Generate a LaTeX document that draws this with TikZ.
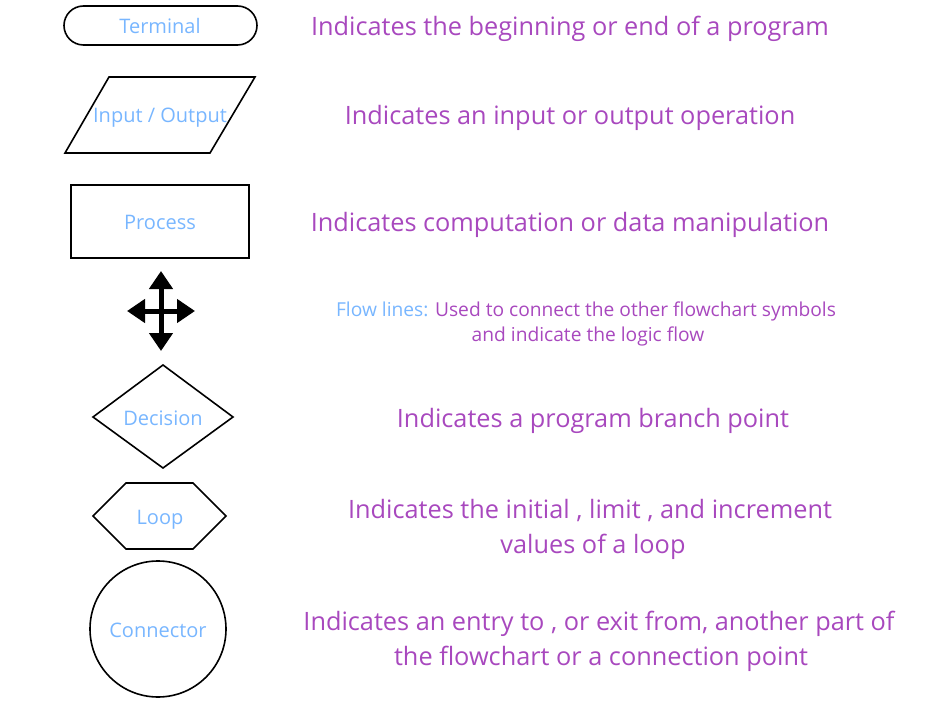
\documentclass[tikz,border=0pt]{standalone}
\usepackage{fontspec}
\setmainfont{Open Sans}
\usetikzlibrary{arrows.meta}
\definecolor{descpurple}{RGB}{168,72,190}
\definecolor{labelblue}{RGB}{120,182,255}
\tikzset{
  shapeline/.style={draw=black, line width=1.6pt, line join=miter},
  shapelabel/.style={text=labelblue, font=\fontsize{20}{24}\selectfont, inner sep=0pt, anchor=base},
  desc/.style={text=descpurple, font=\fontsize{25.3}{34}\selectfont, inner sep=0pt, anchor=base},
  smalldesc/.style={text=descpurple, font=\fontsize{19.2}{25}\selectfont, inner sep=0pt, anchor=base},
  flowarrow/.style={line width=5pt, -{Triangle[width=23pt,length=18pt]}}
}
\begin{document}
\begin{tikzpicture}[x=1pt,y=-1pt]
\useasboundingbox (0,0) rectangle (931,703);
% Terminal
\draw[shapeline, rounded corners=19.5pt] (64,6) rectangle (257,45);
\node[shapelabel] (terminal) at (160,34) {Terminal};
% Input / Output
\draw[shapeline] (109,77) -- (255,77) -- (210,153) -- (65,153) -- cycle;
\node[shapelabel] (io) at (160,123) {Input / Output};
% Process
\draw[shapeline] (71,185) rectangle (249,258);
\node[shapelabel] (process) at (160,230) {Process};
% Flow line cross
\coordinate (fc) at (161,311);
\coordinate (fup) at (161,271);
\coordinate (fdown) at (161,351);
\coordinate (fleft) at (127,311);
\coordinate (fright) at (195,311);
\draw[flowarrow] (fc) -- (fup);
\draw[flowarrow] (fc) -- (fdown);
\draw[flowarrow] (fc) -- (fleft);
\draw[flowarrow] (fc) -- (fright);
% Decision
\draw[shapeline] (93,417) -- (163,365) -- (233,417) -- (163,468) -- cycle;
\node[shapelabel] (decision) at (163,425) {Decision};
% Loop
\draw[shapeline] (93,516) -- (126,483) -- (193,483) -- (226,516) -- (193,549) -- (126,549) -- cycle;
\node[shapelabel] (loop) at (160,524) {Loop};
% Connector
\draw[shapeline] (158,629) circle (68);
\node[shapelabel] (connector) at (158,637) {Connector};
% Descriptions
\node[desc] (d1) at (570,36) {Indicates the beginning or end of a program};
\node[desc] (d2) at (570,125) {Indicates an input or output operation};
\node[desc] (d3) at (570,232) {Indicates computation or data manipulation};
\node[smalldesc] (d4a) at (586,316.5) {{\color{labelblue}Flow lines:} Used to connect the other flowchart symbols};
\node[smalldesc] (d4b) at (588,341.5) {and indicate the logic flow};
\node[desc] (d5) at (593,427) {Indicates a program branch point};
\node[desc] (d6a) at (590,518) {Indicates the initial , limit , and increment};
\node[desc] (d6b) at (593,553) {values of a loop};
\node[desc] (d7a) at (599,630) {Indicates an entry to , or exit from, another part of};
\node[desc] (d7b) at (601,665) {the flowchart or a connection point};
\end{tikzpicture}
\end{document}
